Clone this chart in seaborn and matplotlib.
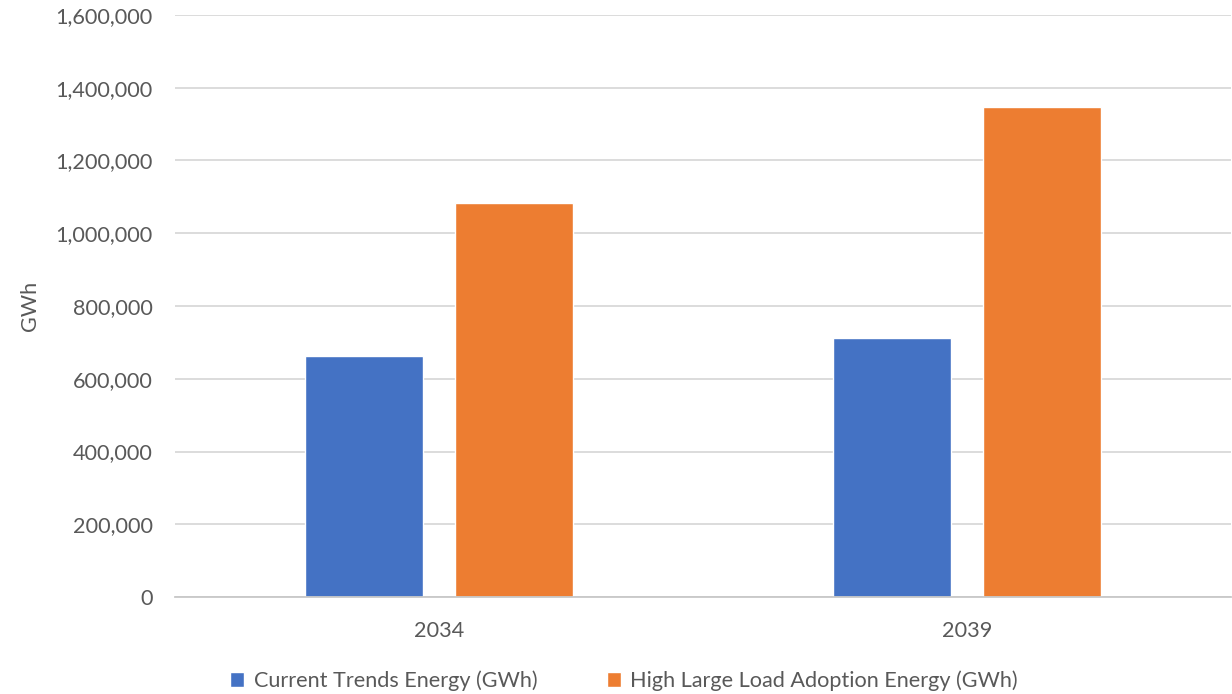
import matplotlib
matplotlib.use("Agg")
import matplotlib.pyplot as plt
import seaborn as sns
import pandas as pd
from matplotlib.ticker import FuncFormatter

# data
years = ["2034", "2039"]
current_trends = [662000, 711000]
high_large_load = [1082000, 1346000]
series_names = ["Current Trends Energy (GWh)", "High Large Load Adoption Energy (GWh)"]
colors = ["#4472C4", "#ED7D31"]

df = pd.DataFrame({
    "year": years * 2,
    "value": current_trends + high_large_load,
    "series": [series_names[0]] * 2 + [series_names[1]] * 2,
})

sns.set_style("white")
plt.rcParams["font.family"] = ["Lato", "DejaVu Sans"]
text_color = "#595959"
fs = 15.6

fig = plt.figure(figsize=(12.32, 6.94), dpi=100)
ax = fig.add_axes([175 / 1232, 97 / 694, 1056 / 1232, 582 / 694])

sns.barplot(data=df, x="year", y="value", hue="series", palette=colors,
            width=0.57, gap=0.216, ax=ax, saturation=1)

ax.set_xlim(-0.5, 1.5)
ax.set_ylim(0, 1600000)
ax.set_yticks(range(0, 1600001, 200000))
ax.yaxis.set_major_formatter(FuncFormatter(lambda v, p: f"{int(v):,}"))
ax.grid(axis="y", color="#d9d9d9", linewidth=1.3)
ax.set_axisbelow(True)

for side in ["top", "right", "left"]:
    ax.spines[side].set_visible(False)
ax.spines["bottom"].set_color("#c8c8c8")
ax.spines["bottom"].set_linewidth(1.3)

ax.tick_params(axis="both", length=0, labelsize=fs, colors=text_color)
ax.tick_params(axis="y", pad=16)
ax.tick_params(axis="x", pad=17)
ax.set_xlabel("")
ax.set_ylabel("GWh", fontsize=fs, color=text_color, labelpad=11)

ax.legend(loc="center", bbox_to_anchor=(624 / 1232, 13 / 694),
          bbox_transform=fig.transFigure, ncol=2, frameon=False,
          fontsize=fs, handlelength=0.65, handleheight=0.65,
          handletextpad=0.45, columnspacing=3.2, labelcolor=text_color)

fig.savefig("out.png", dpi=100)
